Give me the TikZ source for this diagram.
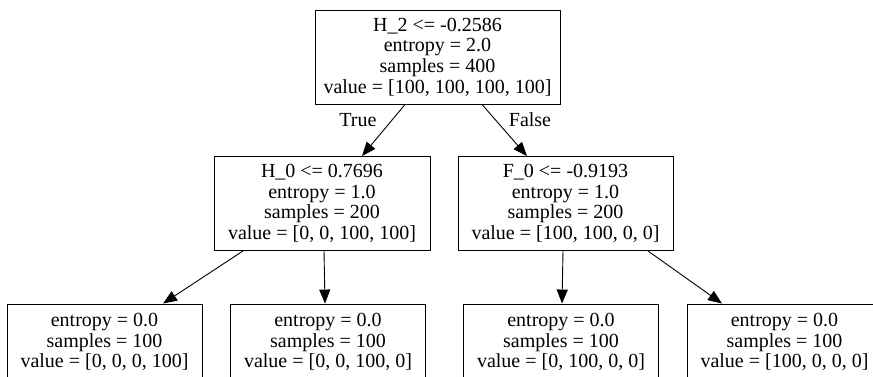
\documentclass[tikz,border=0pt]{standalone}
\usepackage{fontspec}
\setmainfont{Liberation Serif}
\usetikzlibrary{arrows.meta}

\tikzset{
	txt/.style={font=\fontsize{20}{20.6}\selectfont},
	box/.style={txt, draw, rectangle, line width=0.9pt, inner sep=0pt, align=center},
	split/.style={box, minimum height=94pt},
	leaf/.style={box, minimum width=195pt, minimum height=76pt},
	edge/.style={-{Triangle[length=14pt, width=11pt]}, line width=0.9pt},
}

\begin{document}
\begin{tikzpicture}[x=1pt, y=-1pt]
	\useasboundingbox (0, 0) rectangle (873, 376);
	\node[split, minimum width=245pt] (h2) at (437.5, 57) {H\_2 <= -0.2586\\entropy = 2.0\\samples = 400\\value = [100, 100, 100, 100]};
	\node[split, minimum width=216pt] (h0) at (322, 203.5) {H\_0 <= 0.7696\\entropy = 1.0\\samples = 200\\value = [0, 0, 100, 100]};
	\node[split, minimum width=215pt] (f0) at (565.5, 203.5) {F\_0 <= -0.9193\\entropy = 1.0\\samples = 200\\value = [100, 100, 0, 0]};
	\node[leaf] (l1) at (104.5, 342) {entropy = 0.0\\samples = 100\\value = [0, 0, 0, 100]};
	\node[leaf] (l2) at (328, 342) {entropy = 0.0\\samples = 100\\value = [0, 0, 100, 0]};
	\node[leaf] (l3) at (561, 342) {entropy = 0.0\\samples = 100\\value = [0, 100, 0, 0]};
	\node[leaf] (l4) at (784.5, 342) {entropy = 0.0\\samples = 100\\value = [100, 0, 0, 0]};
	\draw[edge] ([xshift=-32.5pt]h2.south) -- ([xshift=40pt]h0.north);
	\draw[edge] ([xshift=44.5pt]h2.south) -- ([xshift=-38.5pt]f0.north);
	\node[txt] (yes) at (358, 120) {True};
	\node[txt] (no) at (530, 120) {False};
	\draw[edge] ([xshift=-79pt]h0.south) -- ([xshift=58.5pt]l1.north);
	\draw[edge] ([xshift=2pt]h0.south) -- ([xshift=-3pt]l2.north);
	\draw[edge] ([xshift=-2.5pt]f0.south) -- ([xshift=1pt]l3.north);
	\draw[edge] ([xshift=82.5pt]f0.south) -- ([xshift=-62.5pt]l4.north);
\end{tikzpicture}
\end{document}
